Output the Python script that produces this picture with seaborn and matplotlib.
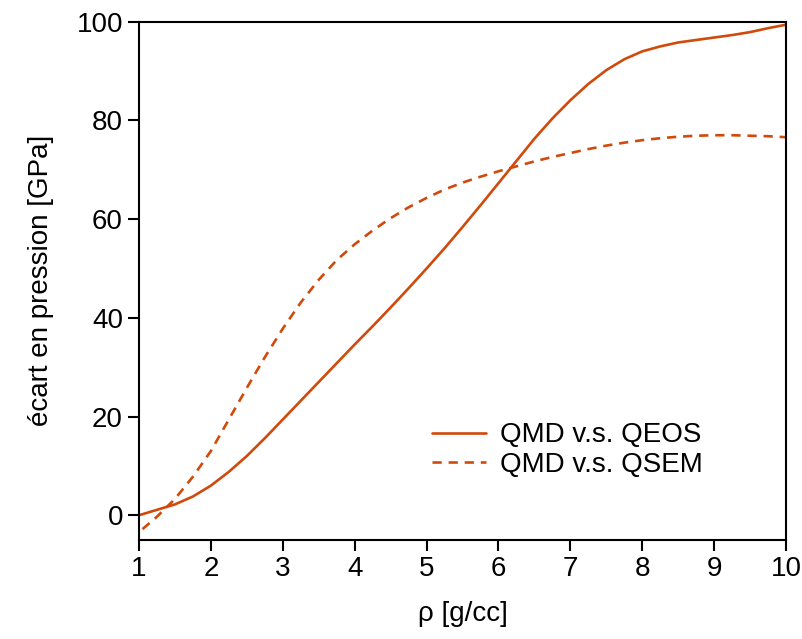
import numpy as np
import pandas as pd
import seaborn as sns
import matplotlib.pyplot as plt

rho = [1.0, 1.25, 1.5, 1.75, 2.0, 2.25, 2.5, 2.75, 3.0, 3.25, 3.5, 3.75, 4.0, 4.25, 4.5, 4.75,
       5.0, 5.25, 5.5, 5.75, 6.0, 6.25, 6.5, 6.75, 7.0, 7.25, 7.5, 7.75, 8.0, 8.25, 8.5, 8.75,
       9.0, 9.25, 9.5, 9.75, 10.0]
qeos = [0.0, 1.1, 2.2, 3.8, 6.0, 8.8, 12.0, 15.6, 19.4, 23.2, 27.0, 30.8, 34.6, 38.3, 42.1, 46.0,
        50.0, 54.1, 58.4, 62.8, 67.3, 71.8, 76.3, 80.4, 84.1, 87.4, 90.2, 92.4, 94.0, 95.0, 95.8, 96.3,
        96.8, 97.3, 97.9, 98.7, 99.4]
qsem_x = [1.05] + rho[1:]
qsem = [-2.8, -0.3, 3.3, 7.8, 13.0, 19.4, 25.8, 32.0, 37.8, 43.1, 47.7, 51.7, 54.9, 57.7, 60.2, 62.4,
        64.3, 66.0, 67.4, 68.6, 69.7, 70.7, 71.7, 72.6, 73.4, 74.2, 74.9, 75.5, 76.0, 76.4, 76.7, 76.9,
        77.0, 77.0, 76.9, 76.8, 76.6]

labels = ['QMD v.s. QEOS', 'QMD v.s. QSEM']
color = '#d04a0c'

df = pd.concat([
    pd.DataFrame({'rho': rho, 'dp': qeos, 'cas': labels[0]}),
    pd.DataFrame({'rho': qsem_x, 'dp': qsem, 'cas': labels[1]}),
])

sns.set_style('ticks')
plt.rcParams['font.family'] = ['Liberation Sans', 'DejaVu Sans']
plt.rcParams['text.color'] = 'black'
plt.rcParams['axes.labelcolor'] = 'black'

fig = plt.figure(figsize=(8.03, 6.39), dpi=100)
ax = fig.add_axes([0.173, 0.155, 0.806, 0.811])

sns.lineplot(data=df, x='rho', y='dp', hue='cas', style='cas',
             palette=[color, color], dashes=[(None, None), (3.5, 2.6)],
             linewidth=1.9, ax=ax)

ax.set_xlim(1, 10)
ax.set_ylim(-5, 100)
ax.set_xticks(range(1, 11))
ax.set_yticks(range(0, 101, 20))
for s in ax.spines.values():
    s.set_linewidth(1.5)
    s.set_color('black')
ax.tick_params(direction='out', length=8, width=1.5, labelsize=20, colors='black')
ax.set_xlabel('ρ [g/cc]', fontsize=20, labelpad=14)
ax.set_ylabel('écart en pression [GPa]', fontsize=20, labelpad=16)

ax.legend(frameon=False, loc='upper left', bbox_to_anchor=(0.453, 0.227),
          fontsize=20, handlelength=1.95, handletextpad=0.5,
          labelspacing=0.12, borderpad=0, borderaxespad=0)

fig.savefig('out.png', dpi=100)
